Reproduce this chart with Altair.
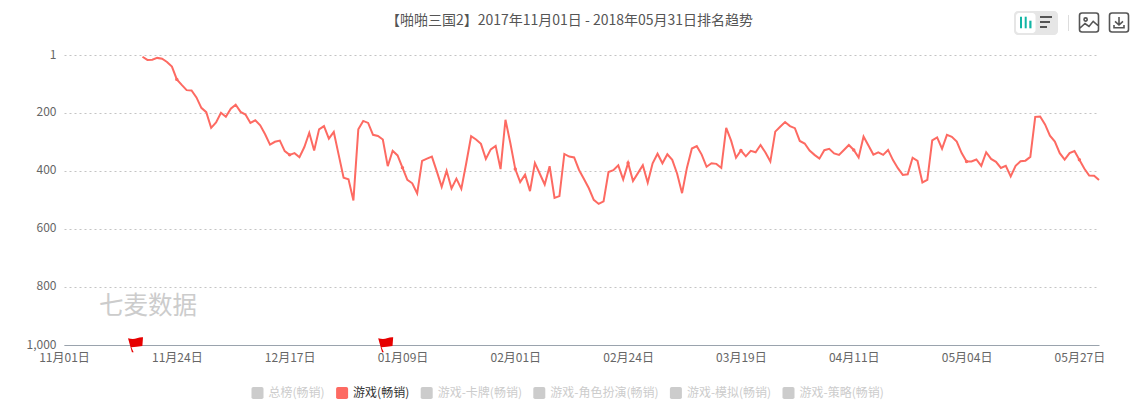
import altair as alt
import pandas as pd

FONT = "Noto Sans CJK SC"
TITLE = "【啪啪三国2】2017年11月01日 - 2018年05月31日排名趋势"
START = "2017-11-17"
RANKS = [
    7, 18, 17, 11, 14, 25, 41, 85, 104, 122, 123, 147, 183, 198, 252, 233, 200, 214, 186, 172,
    197, 206, 235, 226, 243, 274, 310, 300, 296, 332, 345, 339, 353, 318, 269, 330, 257, 246, 289, 266,
    345, 424, 429, 502, 257, 228, 235, 276, 280, 292, 384, 331, 347, 389, 431, 443, 478, 366, 358, 351,
    402, 455, 400, 461, 427, 462, 374, 281, 292, 307, 359, 326, 314, 394, 224, 305, 394, 439, 413, 470,
    373, 410, 447, 384, 493, 487, 342, 351, 354, 397, 428, 460, 500, 514, 505, 404, 398, 381, 430, 373,
    435, 408, 381, 441, 374, 341, 374, 343, 362, 410, 477, 389, 323, 315, 344, 386, 374, 376, 390, 252,
    296, 355, 330, 350, 331, 336, 311, 337, 368, 265, 248, 232, 246, 253, 297, 306, 330, 345, 358, 329,
    324, 340, 345, 328, 311, 328, 354, 282, 313, 344, 336, 345, 328, 363, 391, 414, 412, 355, 366, 440,
    431, 295, 285, 324, 276, 283, 299, 339, 368, 368, 361, 383, 336, 359, 369, 390, 383, 419, 383, 367,
    365, 352, 214, 213, 240, 279, 299, 339, 361, 339, 332, 362, 392, 416, 417, 432,
]
X_TICKS = ["2017-11-01", "2017-11-24", "2017-12-17", "2018-01-09", "2018-02-01",
           "2018-02-24", "2018-03-19", "2018-04-11", "2018-05-04", "2018-05-27"]
Y_TICKS = [1, 200, 400, 600, 800, 1000]
FLAG_DATES = ["2017-11-15", "2018-01-05"]
SERIES = ["总榜(畅销)", "游戏(畅销)", "游戏-卡牌(畅销)", "游戏-角色扮演(畅销)", "游戏-模拟(畅销)", "游戏-策略(畅销)"]
ACTIVE = "游戏(畅销)"
SERIES_COLORS = ["#cccccc", "#fd6a62", "#cccccc", "#cccccc", "#cccccc", "#cccccc"]

dates = pd.date_range(START, periods=len(RANKS), freq="D")
df = pd.DataFrame({"date": dates.strftime("%Y-%m-%d"), "rank": RANKS, "series": ACTIVE})
df["day"] = (dates - pd.Timestamp("2017-11-01")).days
dots = df[df["day"] % 23 == 0]
one = pd.DataFrame({"k": [0]})

x_scale = alt.Scale(type="utc", domain=["2017-11-01", "2018-05-31"])
y_scale = alt.Scale(domain=[1, 1000], reverse=True, nice=False, zero=False)

x_axis = alt.Axis(values=X_TICKS, labelExpr="utcFormat(datum.value, '%m月%d日')", title=None, grid=False,
                  ticks=False, domainColor="#9aa3ad", domainWidth=1, labelColor="#666666", labelFontSize=12,
                  labelFont=FONT, labelPadding=7, labelOverlap=False, labelFlush=False, labelBound=False)
y_axis = alt.Axis(values=Y_TICKS, labelExpr="format(datum.value, ',d')", title=None, grid=True,
                  gridColor="#c4c4c4", gridDash=[2, 3], gridWidth=1, ticks=False, domain=False,
                  labelColor="#666666", labelFontSize=12, labelFont=FONT, labelPadding=8, labelOverlap=False,
                  labelOffset=-1)

line = alt.Chart(df).mark_line(strokeWidth=2, color="#fd6a62", opacity=1).encode(
    x=alt.X("date:T", scale=x_scale, axis=x_axis),
    y=alt.Y("rank:Q", scale=y_scale, axis=y_axis),
)

ROUND = "M-0.7,-1H0.7Q1,-1 1,-0.7V0.7Q1,1 0.7,1H-0.7Q-1,1 -1,0.7V-0.7Q-1,-1 -0.7,-1Z"
points = alt.Chart(dots).mark_point(filled=True, size=12, opacity=1).encode(
    x="date:T",
    y="rank:Q",
    color=alt.Color(
        "series:N",
        scale=alt.Scale(domain=SERIES, range=SERIES_COLORS),
        legend=alt.Legend(
            title=None, orient="none", legendX=187.5, legendY=332, direction="horizontal", columns=6,
            symbolType=ROUND, symbolSize=144, symbolOpacity=1, symbolStrokeWidth=0, columnPadding=10.6,
            labelFont=FONT, labelFontSize=12, labelOffset=5,
            labelColor=alt.expr("datum.value == '%s' ? '#333333' : '#cccccc'" % ACTIVE),
        ),
    ),
)

FLAG = "M-0.62,-0.89Q0.1,-0.72 0.55,-0.9Q1,-1.05 1.38,-1.02L1.29,0.13Q0.5,0.22 -0.18,0.3L0.13,0.98L-0.1,0.98Z"
flags = alt.Chart(pd.DataFrame({"date": FLAG_DATES, "rank": [1000, 1000]})).mark_point(
    shape=FLAG, filled=True, size=225, opacity=1, color="#e60000", strokeWidth=0, clip=False
).encode(x="date:T", y="rank:Q")

mark = alt.Chart(one).mark_text(text="七麦数据", font=FONT, fontSize=24.5, color="#cccccc", align="left").encode(
    x=alt.value(35), y=alt.value(252)
)


def box(x0, x1, y0, y1, color, radius=0):
    return alt.Chart(one).mark_rect(color=color, cornerRadius=radius, opacity=1).encode(
        x=alt.value(x0 - 64), x2=alt.value(x1 - 64), y=alt.value(y0 - 55), y2=alt.value(y1 - 55)
    )


def icon(cx, cy, path):
    return alt.Chart(one).mark_point(shape=path, filled=False, size=400, color="#555555", strokeWidth=1.6,
                                     opacity=1).encode(x=alt.value(cx - 64), y=alt.value(cy - 55))


FRAME = "M-0.7,-0.95H0.7Q0.95,-0.95 0.95,-0.7V0.7Q0.95,0.95 0.7,0.95H-0.7Q-0.95,0.95 -0.95,0.7V-0.7Q-0.95,-0.95 -0.7,-0.95Z"
IMAGE = FRAME + "M-0.95,0.6L-0.4,0.1L0,0.4L0.42,-0.12L0.95,0.35M-0.5,-0.3A0.16,0.16 0 1 1 -0.18,-0.3A0.16,0.16 0 1 1 -0.5,-0.3Z"
SAVE = FRAME + "M0,-0.55V0.15M-0.4,-0.12L0,0.25L0.4,-0.12M-0.5,0.25V0.52H0.5V0.25"

toolbar = [
    box(1014, 1058, 11, 35, "#e6e6e6", 4),
    box(1016, 1035.5, 13, 33, "#ffffff", 3),
    box(1020, 1022, 16.7, 28.3, "#12b5a5"),
    box(1024.7, 1026.7, 16.7, 28.3, "#12b5a5"),
    box(1029.3, 1031.5, 20.7, 28.3, "#12b5a5"),
    box(1040, 1052, 16, 18, "#555555"),
    box(1040, 1050, 21, 23, "#555555"),
    box(1040, 1047, 26, 28, "#555555"),
    box(1068, 1069, 15, 31, "#dddddd"),
    icon(1089, 22.5, IMAGE),
    icon(1119, 22.5, SAVE),
]

chart = alt.layer(line, points, flags, mark, *toolbar).resolve_scale(x="shared", y="shared").properties(
    width=1035,
    height=290,
    padding={"left": 56, "top": 47, "right": 35, "bottom": 66},
    autosize=alt.AutoSizeParams(type="none"),
    title=alt.Title(TITLE, font=FONT, fontSize=14, fontWeight="normal", color="#555555",
                    anchor="middle", dx=-12, offset=-18),
).configure_view(stroke=None)

chart.save("out.html", embed_options={"renderer": "svg", "actions": False})
